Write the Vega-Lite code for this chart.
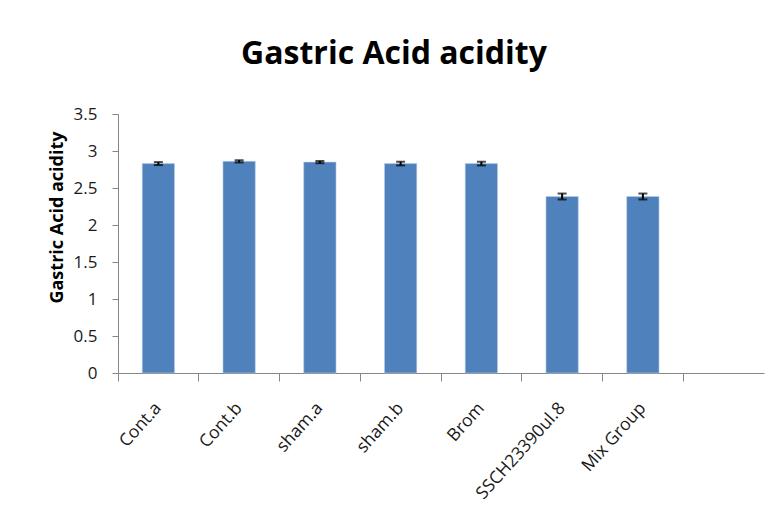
{
  "$schema": "https://vega.github.io/schema/vega-lite/v6.json",
  "width": 646,
  "height": 259,
  "autosize": {"type": "none"},
  "padding": {"left": 118, "top": 114, "right": 11, "bottom": 149},
  "background": "white",
  "title": {
    "text": "Gastric Acid acidity",
    "font": "Open Sans",
    "fontSize": 32,
    "fontWeight": "bold",
    "color": "black",
    "anchor": "middle",
    "dx": -47,
    "offset": 9,
    "baseline": "alphabetic"
  },
  "config": {
    "view": {"stroke": null},
    "axis": {
      "domainColor": "#868686",
      "tickColor": "#868686",
      "labelFont": "Open Sans",
      "labelColor": "#1a1a1a",
      "titleFont": "Open Sans",
      "grid": false
    }
  },
  "data": {
    "values": [
      {"group": "Cont.a", "mean": 2.83, "err": 0.02},
      {"group": "Cont.b", "mean": 2.86, "err": 0.015},
      {"group": "sham.a", "mean": 2.85, "err": 0.015},
      {"group": "sham.b", "mean": 2.83, "err": 0.025},
      {"group": "Brom", "mean": 2.83, "err": 0.025},
      {"group": "SSCH23390ul.8", "mean": 2.385, "err": 0.04},
      {"group": "Mix Group", "mean": 2.385, "err": 0.04}
    ]
  },
  "resolve": {"axis": {"x": "independent"}},
  "encoding": {
    "y": {
      "field": "mean",
      "type": "quantitative",
      "scale": {"domain": [0, 3.5], "nice": false},
      "axis": {
        "title": "Gastric Acid acidity",
        "titleFontSize": 18,
        "titleFontWeight": "bold",
        "titleColor": "black",
        "titleY": 103,
        "titleX": -61,
        "titleAlign": "center",
        "titleBaseline": "middle",
        "titleAngle": -90,
        "values": [0, 0.5, 1, 1.5, 2, 2.5, 3, 3.5],
        "labelFontSize": 17,
        "tickSize": 6,
        "labelPadding": 15,
        "format": "~g"
      }
    }
  },
  "layer": [
    {
      "mark": {"type": "bar", "color": "#4f81bd", "width": {"band": 0.4}, "stroke": "#b9cde5", "strokeWidth": 0.6},
      "encoding": {
        "x": {
          "field": "group",
          "type": "nominal",
          "sort": null,
          "scale": {
            "domain": ["Cont.a", "Cont.b", "sham.a", "sham.b", "Brom", "SSCH23390ul.8", "Mix Group", " "],
            "paddingInner": 0,
            "paddingOuter": 0
          },
          "axis": {
            "orient": "bottom",
            "title": null,
            "labelAngle": -48,
            "labelAlign": "right",
            "labelBaseline": "middle",
            "labelFontSize": 17.5,
            "labelPadding": 32,
            "labelOffset": 0,
            "ticks": false,
            "domain": true
          }
        }
      }
    },
    {
      "mark": {"type": "errorbar", "color": "black", "thickness": 2, "ticks": {"size": 9, "thickness": 2, "color": "black"}},
      "encoding": {
        "x": {"field": "group", "type": "nominal", "sort": null, "axis": null},
        "yError": {"field": "err"}
      }
    },
    {
      "mark": {"type": "rule", "opacity": 0},
      "encoding": {
        "x": {
          "field": "group",
          "type": "nominal",
          "sort": null,
          "axis": {
            "orient": "bottom",
            "labels": false,
            "domain": false,
            "ticks": true,
            "tickSize": 8,
            "bandPosition": 0,
            "title": null
          }
        }
      }
    }
  ]
}
